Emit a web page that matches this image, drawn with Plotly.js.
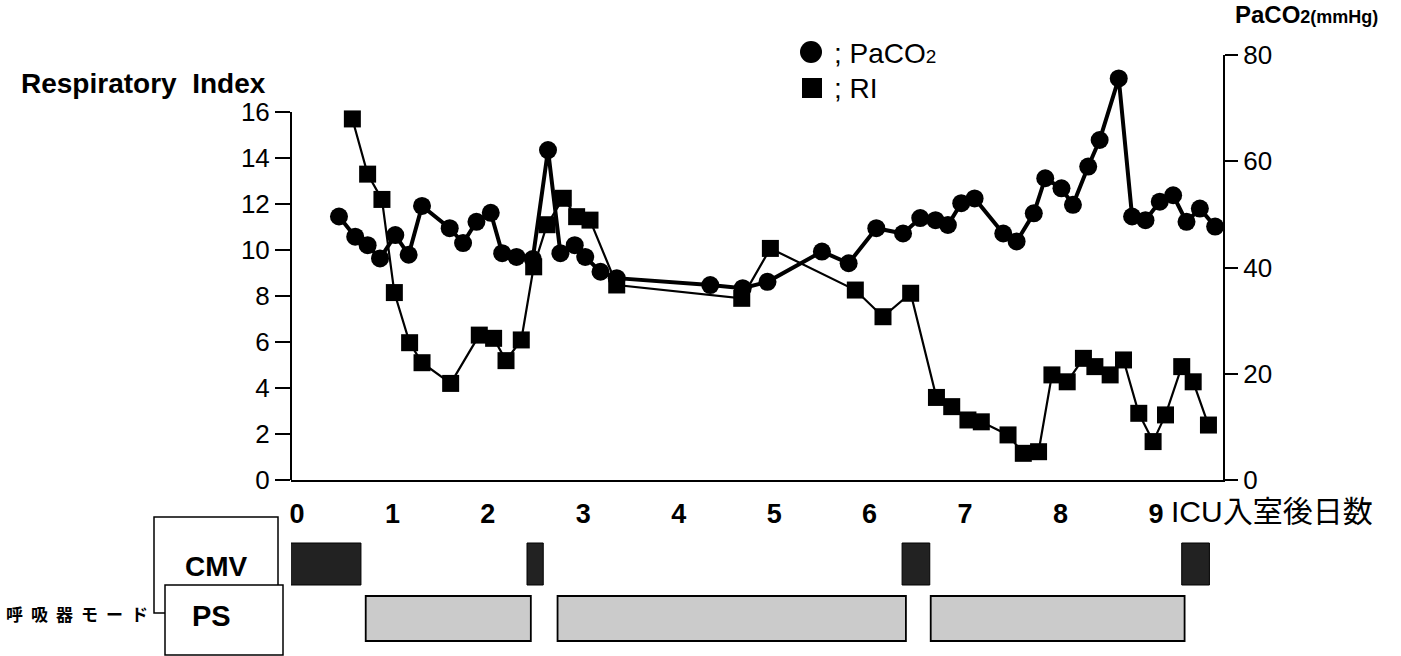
<!DOCTYPE html>
<html><head><meta charset="utf-8">
<script src="https://cdn.plot.ly/plotly-3.0.1.min.js"></script>
<style>html,body{margin:0;padding:0;background:#fff;}#chart{width:1401px;height:656px;}</style>
</head><body><div id="chart"></div>
<script>
// ---- data (days after ICU admission) ----
const paco2Day = [0.44,0.61,0.74,0.87,1.03,1.17,1.31,1.60,1.74,1.88,2.03,2.15,2.30,2.47,2.63,2.76,2.91,3.02,3.18,3.35,
  4.33,4.67,4.93,5.50,5.78,6.07,6.35,6.53,6.69,6.82,6.96,7.10,7.40,7.54,7.72,7.84,8.01,8.13,8.29,8.41,8.61,8.75,8.89,9.04,9.18,9.32,9.46,9.62];
const paco2Val = [49.6,45.8,44.2,41.7,46.1,42.4,51.6,47.4,44.6,48.6,50.3,42.7,42.0,41.6,62.1,42.7,44.2,42.0,39.2,38.0,
  36.7,36.1,37.3,43.0,40.8,47.4,46.4,49.3,48.9,48.0,52.1,53.0,46.4,44.9,50.2,56.8,54.9,51.8,59.0,64.0,75.6,49.6,48.9,52.4,53.6,48.6,51.1,47.7];
const riDay = [0.58,0.74,0.89,1.02,1.18,1.31,1.61,1.91,2.06,2.19,2.35,2.48,2.62,2.79,2.93,3.07,3.35,
  4.66,4.96,5.85,6.14,6.43,6.70,6.86,7.03,7.17,7.45,7.61,7.77,7.91,8.07,8.24,8.36,8.52,8.66,8.82,8.97,9.10,9.27,9.39,9.55];
const riVal = [15.7,13.3,12.2,8.15,5.97,5.10,4.20,6.30,6.16,5.19,6.09,9.27,11.1,12.25,11.45,11.3,8.48,
  7.90,10.07,8.26,7.10,8.12,3.59,3.19,2.61,2.53,1.96,1.16,1.23,4.57,4.27,5.29,4.93,4.57,5.22,2.90,1.67,2.83,4.93,4.27,2.39];
const dayTicks = [0,1,2,3,4,5,6,7,8,9];
const riTicks = [0,2,4,6,8,10,12,14,16];
const paco2Ticks = [0,20,40,60,80];
// ventilator mode periods (days)
const cmvStart = [-0.07, 2.41, 6.34, 9.27];
const cmvEnd   = [0.67, 2.58, 6.63, 9.56];
const psStart  = [0.72, 2.73, 6.64];
const psEnd    = [2.45, 6.38, 9.30];

// ---- geometry helpers (pixel -> paper) ----
const L = 291, R = 1223, T = 55, B = 480;
const W = R - L, H = B - T;
const px = x => (x - L) / W;
const py = y => (B - y) / H;

const FONT = 'Liberation Sans, Arial, sans-serif';
const JP = 'Liberation Sans, Noto Sans CJK JP, sans-serif';

const traces = [
  {x: riDay, y: riVal, type: 'scatter', mode: 'lines+markers', yaxis: 'y',
   line: {color: '#000', width: 2.2}, marker: {symbol: 'square', size: 17, color: '#000'}, cliponaxis: false},
  {x: paco2Day, y: paco2Val, type: 'scatter', mode: 'lines+markers', yaxis: 'y2',
   line: {color: '#000', width: 4}, marker: {symbol: 'circle', size: 18, color: '#000'}, cliponaxis: false}
];

const shapes = [
  {type: 'line', xref: 'paper', yref: 'y', x0: 0, x1: 0, y0: 0, y1: 16, line: {color: '#000', width: 2}},
  // mode label boxes
  {type: 'rect', xref: 'paper', yref: 'paper', x0: px(154), x1: px(278), y0: py(517), y1: py(613),
   line: {color: '#000', width: 1.5}, fillcolor: '#fff'},
  {type: 'rect', xref: 'paper', yref: 'paper', x0: px(165), x1: px(283), y0: py(585), y1: py(655),
   line: {color: '#000', width: 1.5}, fillcolor: '#fff'},
  // legend symbols
  {type: 'circle', xref: 'paper', yref: 'paper', x0: px(800), x1: px(822), y0: py(41), y1: py(63),
   line: {color: '#000', width: 0}, fillcolor: '#000'},
  {type: 'rect', xref: 'paper', yref: 'paper', x0: px(802), x1: px(822), y0: py(78), y1: py(98),
   line: {color: '#000', width: 0}, fillcolor: '#000'}
];
cmvStart.forEach((s, i) => shapes.push({type: 'rect', xref: 'x', yref: 'paper', x0: s, x1: cmvEnd[i],
  y0: py(585), y1: py(543), line: {color: '#000', width: 1}, fillcolor: '#222'}));
psStart.forEach((s, i) => shapes.push({type: 'rect', xref: 'x', yref: 'paper', x0: s, x1: psEnd[i],
  y0: py(641), y1: py(596), line: {color: '#000', width: 1.8}, fillcolor: '#cbcbcb'}));

const ann = (text, x, y, opts) => Object.assign({text, xref: 'paper', yref: 'paper', x: px(x), y: py(y),
  showarrow: false, xanchor: 'left', yanchor: 'middle', font: {family: FONT, size: 20, color: '#000'}}, opts || {});

const annotations = [
  ann('<b>Respiratory  Index</b>', 19, 83, {font: {family: FONT, size: 28, color: '#000'}}),
  ann('<b>PaCO<span style="font-size:18px">2(mmHg)</span></b>', 1233, 14, {font: {family: FONT, size: 24, color: '#000'}}),
  ann('; PaCO<span style="font-size:19px">2</span>', 832, 53, {font: {family: FONT, size: 28, color: '#000'}}),
  ann('; RI', 832, 89, {font: {family: FONT, size: 28, color: '#000'}}),
  ann('<b>CMV</b>', 216, 566, {xanchor: 'center', font: {family: FONT, size: 28, color: '#000'}}),
  ann('<b>PS</b>', 211, 616, {xanchor: 'center', font: {family: FONT, size: 29, color: '#000'}}),
  ann('<b><span style="letter-spacing:8px">呼吸器モード</span></b>', 4, 613, {font: {family: 'Noto Sans CJK JP, sans-serif', size: 17, color: '#000'}}),
  ann('ICU入室後日数', 1169, 512, {font: {family: JP, size: 30, color: '#000'}})
];

const layout = {
  width: 1401, height: 656, autosize: false,
  margin: {l: L, r: 1401 - R, t: T, b: 656 - B, pad: 0},
  paper_bgcolor: '#fff', plot_bgcolor: '#fff', showlegend: false,
  xaxis: {range: [(L - 297) / 95.44, (R - 297) / 95.44], tickvals: dayTicks, ticktext: dayTicks.map(String),
    showline: true, linecolor: '#000', linewidth: 2, ticks: 'outside', ticklen: 9, tickcolor: 'rgba(0,0,0,0)',
    tickfont: {family: FONT, size: 27, color: '#000', weight: 'bold'}, showgrid: false, zeroline: false},
  yaxis: {range: [0, 18.48], tickvals: riTicks, ticktext: riTicks.map(String), showline: false,
    ticks: 'outside', ticklen: 15, tickwidth: 2, tickcolor: '#000',
    tickfont: {family: FONT, size: 26, color: '#000'}, showgrid: false, zeroline: false},
  yaxis2: {range: [0, 80], overlaying: 'y', side: 'right', tickvals: paco2Ticks, ticktext: paco2Ticks.map(String),
    showline: true, linecolor: '#000', linewidth: 2, ticks: 'outside', ticklen: 13, tickwidth: 2, tickcolor: '#000',
    tickfont: {family: FONT, size: 26, color: '#000'}, showgrid: false, zeroline: false},
  shapes, annotations
};

Plotly.newPlot('chart', traces, layout, {displayModeBar: false, staticPlot: true});
</script>
</body></html>
